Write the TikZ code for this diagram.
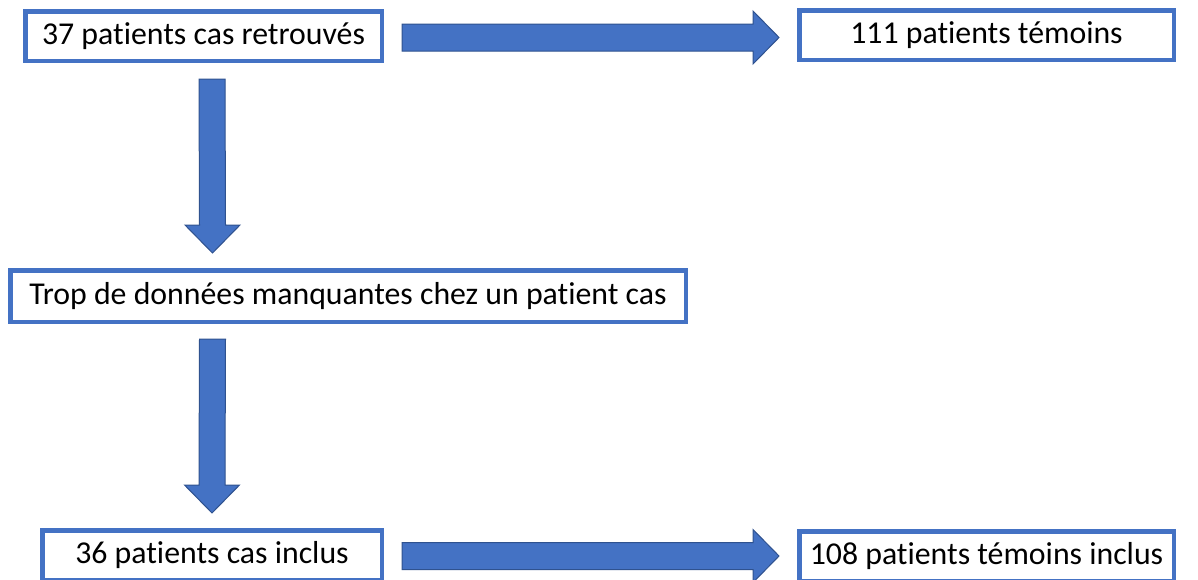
\documentclass[tikz,border=0pt]{standalone}
\usepackage{fontspec}
\setmainfont{Carlito}[Ligatures={NoCommon}]
\usetikzlibrary{calc}
\definecolor{boxblue}{HTML}{4472C4}
\definecolor{arrowfill}{HTML}{4472C4}
\definecolor{arrowedge}{HTML}{2F528F}
\tikzset{
  flowbox/.style={draw=boxblue, line width=4.5pt, fill=white, rectangle, inner sep=0pt,
    font=\fontsize{31.8}{38}\selectfont, text=black},
  blockarrow/.style={fill=arrowfill, draw=arrowedge, line width=1pt, line join=miter}
}
\newcommand\myharrow[2]{% start, end (horizontal)
  \draw[blockarrow] ($(#1)+(0,-13.5)$) -- ($(#2)+(-26,-13.5)$) -- ($(#2)+(-26,-26.5)$) -- (#2)
    -- ($(#2)+(-26,26.5)$) -- ($(#2)+(-26,13.5)$) -- ($(#1)+(0,13.5)$) -- cycle;}
\newcommand\myvarrow[2]{% start, end (vertical, downward)
  \draw[blockarrow] ($(#1)+(-13,0)$) -- ($(#2)+(-13,-28)$) -- ($(#2)+(-27.5,-28)$) -- (#2)
    -- ($(#2)+(27.5,-28)$) -- ($(#2)+(13,-28)$) -- ($(#1)+(13,0)$) -- cycle;}
\newcommand\boxtext[1]{\raisebox{-3pt}{#1}}
\begin{document}
\begin{tikzpicture}[x=1pt,y=-1pt]
\useasboundingbox (0,0) rectangle (1198,579);
\clip (0,0) rectangle (1198,579);
\node[flowbox, minimum width=356.5pt, minimum height=49.5pt] (cas) at (203.5,36) {\boxtext{37 patients cas retrouvés}};
\node[flowbox, minimum width=374.5pt, minimum height=49.5pt] (tem) at (986.5,35) {\boxtext{111 patients témoins}};
\node[flowbox, minimum width=675.5pt, minimum height=51.5pt] (trop) at (348,296) {\boxtext{Trop de données manquantes chez un patient cas}};
\node[flowbox, minimum width=339.5pt, minimum height=49.5pt] (incl) at (212,555) {\boxtext{36 patients cas inclus}};
\node[flowbox, minimum width=374.5pt, minimum height=49.5pt] (teminc) at (986.5,556) {\boxtext{108 patients témoins inclus}};
% connectors (block arrows)
\coordinate (h1s) at ($(cas.east)+(18,1.5)$);
\coordinate (h1e) at ($(tem.west)+(-18,2.5)$);
\myharrow{h1s}{h1e}
\coordinate (v1s) at ($(cas.south)+(8.5,16)$);
\coordinate (v1e) at ($(trop.north)+(-135.5,-15)$);
\myvarrow{v1s}{v1e}
\coordinate (v2s) at ($(trop.south)+(-135.5,15)$);
\coordinate (v2e) at ($(incl.north)+(0,-15)$);
\myvarrow{v2s}{v2e}
\coordinate (h2s) at ($(incl.east)+(18,1)$);
\coordinate (h2e) at ($(teminc.west)+(-18,0)$);
\myharrow{h2s}{h2e}
\end{tikzpicture}
\end{document}
